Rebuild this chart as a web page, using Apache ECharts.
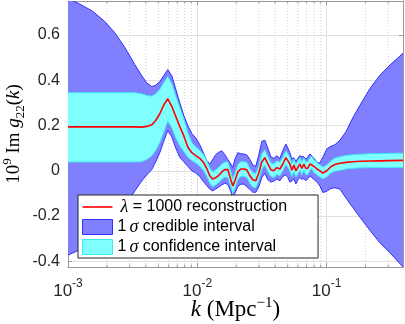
<!DOCTYPE html>
<html>
<head>
<meta charset="utf-8">
<script src="https://cdn.jsdelivr.net/npm/echarts@6/dist/echarts.min.js"></script>
<style>
  html, body { margin: 0; padding: 0; background: #fff; }
  #chart { width: 405px; height: 324px; }
</style>
</head>
<body>
<div id="chart"></div>
<script>
// wavenumbers k (Mpc^-1)
const kValues = [0.001, 0.00123, 0.00155, 0.00192, 0.0023, 0.00275, 0.00328, 0.00372, 0.00407, 0.00444,
  0.00477, 0.00513, 0.0055, 0.00591, 0.00635, 0.00682, 0.00732, 0.00786, 0.00844, 0.00907,
  0.00974, 0.01046, 0.01123, 0.01184, 0.01249, 0.01318, 0.01391, 0.01467, 0.01547, 0.01632,
  0.01722, 0.01817, 0.01883, 0.01951, 0.02058, 0.02171, 0.0229, 0.02416, 0.02549, 0.02689,
  0.02837, 0.02992, 0.03157, 0.0333, 0.03513, 0.03706, 0.03909, 0.04124, 0.04351, 0.0459,
  0.04842, 0.05018, 0.052, 0.05389, 0.05584, 0.05787, 0.05997, 0.06214, 0.0644, 0.06673,
  0.06915, 0.07166, 0.07426, 0.07695, 0.07974, 0.08263, 0.08563, 0.08874, 0.09363, 0.1005,
  0.108, 0.116, 0.1268, 0.1411, 0.1598, 0.181, 0.2163, 0.2585, 0.309, 0.39];

// lambda = 1000 reconstruction
const recon = [0.194, 0.194, 0.194, 0.194, 0.194, 0.194, 0.194, 0.193, 0.196, 0.203,
  0.222, 0.252, 0.29, 0.318, 0.285, 0.24, 0.195, 0.155, 0.105, 0.08,
  0.067, 0.055, 0.035, 0.01, -0.022, -0.037, -0.03, -0.02, -0.005, 0.005,
  0.006, -0.04, -0.067, -0.045, -0.005, 0.008, 0.008, 0.004, -0.022, -0.04,
  -0.044, -0.01, 0.04, 0.058, 0.03, 0.005, 0.0, 0.014, 0.008, 0.03,
  0.058, 0.045, 0.03, 0.002, 0.025, 0.0, 0.015, 0.03, 0.01, 0.03,
  0.01, 0.012, 0.03, 0.037, 0.02, 0.015, 0.005, 0.0, -0.01, 0.0,
  0.018, 0.028, 0.033, 0.037, 0.04, 0.042, 0.043, 0.044, 0.045, 0.046];

// 1 sigma confidence interval
const confLo = [0.039, 0.039, 0.039, 0.039, 0.039, 0.039, 0.039, 0.04, 0.05, 0.065,
  0.09, 0.125, 0.17, 0.22, 0.19, 0.145, 0.11, 0.085, 0.06, 0.045,
  0.035, 0.02, 0.0, -0.025, -0.055, -0.07, -0.062, -0.052, -0.038, -0.028,
  -0.03, -0.07, -0.1, -0.078, -0.038, -0.025, -0.025, -0.03, -0.055, -0.072,
  -0.075, -0.042, 0.008, 0.025, -0.003, -0.025, -0.03, -0.016, -0.022, 0.0,
  0.028, 0.015, 0.0, -0.026, -0.003, -0.028, -0.013, 0.002, -0.018, 0.002,
  -0.018, -0.016, 0.002, 0.009, -0.008, -0.013, -0.022, -0.027, -0.036, -0.026,
  -0.01, -0.002, 0.002, 0.008, 0.011, 0.013, 0.014, 0.015, 0.015, 0.015];
const confHi = [0.345, 0.345, 0.345, 0.345, 0.345, 0.345, 0.345, 0.34, 0.333, 0.33,
  0.34, 0.36, 0.39, 0.416, 0.385, 0.33, 0.28, 0.23, 0.17, 0.125,
  0.105, 0.09, 0.07, 0.045, 0.012, -0.005, 0.005, 0.015, 0.03, 0.038,
  0.04, -0.005, -0.035, -0.012, 0.028, 0.04, 0.04, 0.037, 0.01, -0.008,
  -0.012, 0.022, 0.075, 0.092, 0.062, 0.036, 0.03, 0.044, 0.038, 0.06,
  0.088, 0.075, 0.06, 0.03, 0.053, 0.028, 0.043, 0.058, 0.038, 0.058,
  0.038, 0.04, 0.058, 0.065, 0.048, 0.043, 0.032, 0.027, 0.016, 0.026,
  0.044, 0.056, 0.062, 0.068, 0.071, 0.073, 0.075, 0.076, 0.077, 0.078];

// 1 sigma credible interval
const credLo = [-0.372, -0.35, -0.318, -0.275, -0.225, -0.16, -0.09, -0.045, -0.018, 0.005,
  0.04, 0.08, 0.13, 0.178, 0.15, 0.1, 0.06, 0.04, 0.02, 0.0,
  -0.01, -0.025, -0.05, -0.065, -0.081, -0.089, -0.08, -0.072, -0.062, -0.055,
  -0.06, -0.09, -0.125, -0.1, -0.07, -0.059, -0.059, -0.07, -0.082, -0.095,
  -0.095, -0.07, -0.03, -0.01, -0.04, -0.05, -0.045, -0.037, -0.044, -0.025,
  -0.018, -0.03, -0.05, -0.045, -0.035, -0.058, -0.04, -0.03, -0.037, -0.035,
  -0.044, -0.035, -0.022, -0.03, -0.038, -0.045, -0.055, -0.067, -0.096, -0.09,
  -0.078, -0.075, -0.081, -0.12, -0.163, -0.205, -0.263, -0.318, -0.362, -0.425];
const credHi = [0.76, 0.737, 0.705, 0.66, 0.61, 0.545, 0.47, 0.42, 0.388, 0.372,
  0.378, 0.394, 0.42, 0.447, 0.42, 0.36, 0.3, 0.245, 0.2, 0.165,
  0.145, 0.115, 0.075, 0.045, 0.03, 0.05, 0.072, 0.082, 0.088, 0.072,
  0.05, 0.03, 0.015, 0.05, 0.08, 0.075, 0.074, 0.07, 0.05, 0.025,
  0.02, 0.07, 0.13, 0.135, 0.1, 0.062, 0.055, 0.066, 0.055, 0.09,
  0.118, 0.1, 0.08, 0.052, 0.058, 0.042, 0.055, 0.067, 0.062, 0.062,
  0.052, 0.062, 0.074, 0.066, 0.055, 0.045, 0.035, 0.035, 0.06, 0.097,
  0.108, 0.115, 0.135, 0.172, 0.235, 0.289, 0.363, 0.422, 0.467, 0.519];

// minor grid positions on the log axis
const minorK = [0.002, 0.003, 0.004, 0.005, 0.006, 0.007, 0.008, 0.009,
  0.02, 0.03, 0.04, 0.05, 0.06, 0.07, 0.08, 0.09, 0.2, 0.3];

const xMin = 0.001, xMax = 0.39;
const yMin = -0.425, yMax = 0.75;

const sans = "Liberation Sans";
const serif = "Liberation Serif";
const axisGray = "#999999";
const labelColor = "#262626";

const chart = echarts.init(document.getElementById("chart"));

function bandSeries(name, lo, hi, fill, edge, z){
  return {
    name,
    type: "custom",
    z,
    silent: true,
    clip: true,
    itemStyle: { color: fill },
    data: kValues.map((k, i) => [k, lo[i], hi[i]]),
    renderItem(params, api){
      if(params.dataIndex !== 0) return;
      const top = kValues.map((k, i) => api.coord([k, hi[i]]));
      const bot = kValues.map((k, i) => api.coord([k, lo[i]]));
      return {
        type: "group",
        children: [
          { type: "polygon", shape: { points: top.concat(bot.slice().reverse()) }, style: { fill: fill, stroke: null } },
          { type: "polyline", shape: { points: top }, style: { stroke: edge, lineWidth: 1, fill: null } },
          { type: "polyline", shape: { points: bot }, style: { stroke: edge, lineWidth: 1, fill: null } }
        ]
      };
    }
  };
}

const legendText = {
  recon: "{i|λ} = 1000 reconstruction",
  cred: "1{i|σ} credible interval",
  conf: "1{i|σ} confidence interval"
};

const option = {
  animation: false,
  backgroundColor: "#fff",
  grid: { left: 68, right: 2, top: 1, bottom: 57, outerBoundsMode: "none", containLabel: false },
  xAxis: [{
    type: "log",
    logBase: 10,
    min: xMin,
    max: xMax,
    axisLine: { show: true, onZero: false, lineStyle: { color: axisGray } },
    axisTick: { inside: true, length: 4, lineStyle: { color: axisGray } },
    axisLabel: {
      margin: 11,
      color: labelColor,
      formatter(v){
        const e = Math.log10(v);
        if(Math.abs(e - Math.round(e)) > 1e-6) return "";
        return "{b|10}{s|" + Math.round(e) + "}";
      },
      rich: {
        b: { fontFamily: sans, fontSize: 17, lineHeight: 26, color: labelColor },
        s: { fontFamily: sans, fontSize: 12, lineHeight: 12, verticalAlign: "top", color: labelColor }
      }
    },
    splitLine: { show: true, lineStyle: { color: "#e0e0e0" } },
    name: "{i|k} (Mpc{s|−1})",
    nameLocation: "middle",
    nameGap: 29,
    nameMoveOverlap: false,
    nameTextStyle: {
      rich: {
        i: { fontFamily: serif, fontStyle: "italic", fontSize: 23, lineHeight: 28, color: "#000" },
        s: { fontFamily: serif, fontSize: 15, lineHeight: 15, verticalAlign: "top", color: "#000" }
      },
      fontFamily: serif, fontSize: 23, lineHeight: 28, color: "#000"
    }
  }, {
    type: "log",
    logBase: 10,
    position: "top",
    min: xMin,
    max: xMax,
    axisLine: { show: true, onZero: false, lineStyle: { color: axisGray } },
    axisTick: { inside: true, length: 4, lineStyle: { color: axisGray } },
    axisLabel: { show: false },
    splitLine: { show: false }
  }],
  yAxis: [{
    type: "value",
    min: yMin,
    max: yMax,
    splitNumber: 6,
    axisLine: { show: true, lineStyle: { color: axisGray } },
    axisTick: { inside: true, length: 4, lineStyle: { color: axisGray } },
    axisLabel: {
      margin: 8,
      color: labelColor,
      fontFamily: sans,
      fontSize: 16,
      formatter(v){
        if(Math.abs(v * 5 - Math.round(v * 5)) > 1e-6) return "";
        return String(+v.toFixed(1));
      }
    },
    splitLine: { show: true, lineStyle: { color: "#e0e0e0" } },
    name: "10{s|9} Im {i|g}{d|22}({i|k})",
    nameLocation: "middle",
    nameRotate: 90,
    nameGap: 41,
    nameMoveOverlap: false,
    nameTextStyle: {
      fontFamily: serif, fontSize: 19, lineHeight: 26, color: "#000",
      rich: {
        s: { fontFamily: serif, fontSize: 13, lineHeight: 13, verticalAlign: "top", color: "#000" },
        d: { fontFamily: serif, fontSize: 13, lineHeight: 13, verticalAlign: "bottom", color: "#000" },
        i: { fontFamily: serif, fontStyle: "italic", fontSize: 19, lineHeight: 26, color: "#000" }
      }
    }
  }, {
    type: "value",
    position: "right",
    min: yMin,
    max: yMax,
    splitNumber: 6,
    axisLine: { show: true, lineStyle: { color: axisGray } },
    axisTick: { inside: true, length: 4, lineStyle: { color: axisGray } },
    axisLabel: { show: false },
    splitLine: { show: false }
  }],
  legend: {
    orient: "vertical",
    left: 78,
    top: 195,
    padding: [3, 31, 2, 4],
    itemWidth: 30,
    itemHeight: 15,
    itemGap: 2,
    backgroundColor: "#fff",
    borderColor: "#262626",
    borderWidth: 1,
    selectedMode: false,
    textStyle: {
      fontFamily: sans, fontSize: 16, color: "#000", lineHeight: 16,
      rich: { i: { fontFamily: serif, fontStyle: "italic", fontSize: 18, lineHeight: 16, padding: [0, 0, 0, 3], color: "#000" } }
    },
    formatter: name => legendText[name],
    data: [
      { name: "recon", icon: "path://M0,0h30v1.6h-30z", itemStyle: { color: "#ff0000" } },
      { name: "cred", icon: "rect", itemStyle: { color: "#8080ff", borderColor: "#3030ff", borderWidth: 1 } },
      { name: "conf", icon: "rect", itemStyle: { color: "#80ffff", borderColor: "#40e8f0", borderWidth: 1 } }
    ]
  },
  series: [
    {
      name: "minor",
      type: "custom",
      z: 1,
      silent: true,
      clip: true,
      data: minorK.map(k => [k]),
      renderItem(params, api){
        const k = api.value(0);
        const b = api.coord([k, yMin]);
        const t = api.coord([k, yMax]);
        return {
          type: "group",
          children: [
            { type: "line", shape: { x1: b[0], y1: b[1], x2: t[0], y2: t[1] }, style: { stroke: "#d4d4d4", lineWidth: 1, lineDash: [1, 2] } },
            { type: "line", shape: { x1: b[0], y1: b[1], x2: b[0], y2: b[1] - 2.5 }, style: { stroke: axisGray, lineWidth: 1 } },
            { type: "line", shape: { x1: t[0], y1: t[1], x2: t[0], y2: t[1] + 2.5 }, style: { stroke: axisGray, lineWidth: 1 } }
          ]
        };
      }
    },
    bandSeries("cred", credLo, credHi, "#8080ff", "#3030ff", 2),
    bandSeries("conf", confLo, confHi, "#80ffff", "#40e8f0", 3),
    {
      name: "recon",
      type: "line",
      z: 4,
      symbol: "none",
      showSymbol: false,
      lineStyle: { color: "#ff0000", width: 1.6 },
      itemStyle: { color: "#ff0000" },
      data: kValues.map((k, i) => [k, recon[i]])
    }
  ]
};

chart.setOption(option);
</script>
</body>
</html>
